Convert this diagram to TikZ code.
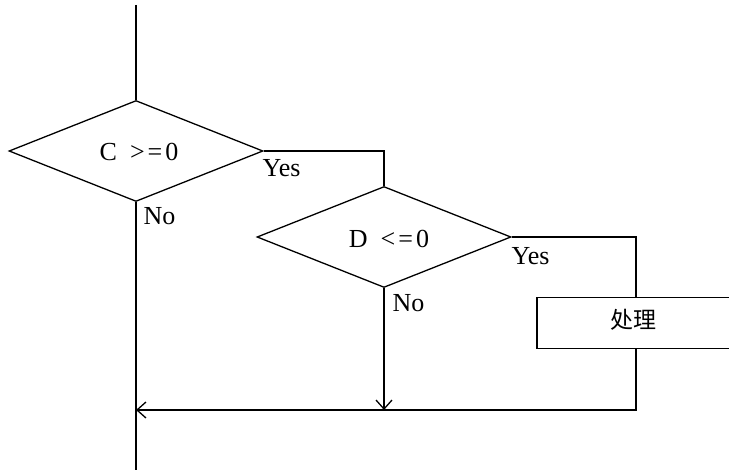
\documentclass[tikz,border=0pt]{standalone}
\usepackage{fontspec}
\setmainfont{Liberation Serif}
\newfontfamily\cjk{Noto Sans CJK SC}
\usetikzlibrary{shapes.geometric,arrows.meta}
\begin{document}
\begin{tikzpicture}[x=1pt,y=-1pt,line width=1.3pt,
  dec/.style={diamond,draw,inner sep=0pt,minimum width=254pt,minimum height=101pt},
  lbl/.style={font=\fontsize{26}{28}\selectfont,inner sep=0pt},
  proc/.style={rectangle,draw,minimum width=198pt,minimum height=51pt,inner sep=0pt},
  arr/.style={-{Straight Barb[length=9pt,width=16pt,line width=1.3pt]}}]
\useasboundingbox (0,0) rectangle (729,476);
\coordinate (top) at (136,5);
\coordinate (bot) at (136,470);
\node[dec] (d1) at (136,151) {};
\node[lbl] (t1) at (139,152) {C\hspace{13pt}>\hspace{3pt}=\hspace{3pt}0};
\node[dec] (d2) at (384,237) {};
\node[lbl] (t2) at (389,239) {D\hspace{13pt}<\hspace{3pt}=\hspace{3pt}0};
\node[proc] (p) at (636,323) {};
\node[font=\fontsize{23}{25}\selectfont\cjk,inner sep=0pt] (t3) at (633,320) {处理};
\coordinate (j1) at (384,410);
\coordinate (j2) at (136,410);
\draw (top) -- (d1.north);
\draw (d1.south) -- (bot);
\draw (d1.east) -| (d2.north);
\draw (d2.east) -| (p.north);
\draw[arr] (d2.south) -- (j1);
\draw[arr] (p.south) |- (j2);
\node[lbl,anchor=base west] (y1) at (262,177) {Yes};
\node[lbl,anchor=base west] (n1) at (143,225) {No};
\node[lbl,anchor=base west] (y2) at (511,265) {Yes};
\node[lbl,anchor=base west] (n2) at (392,311) {No};
\end{tikzpicture}
\end{document}
